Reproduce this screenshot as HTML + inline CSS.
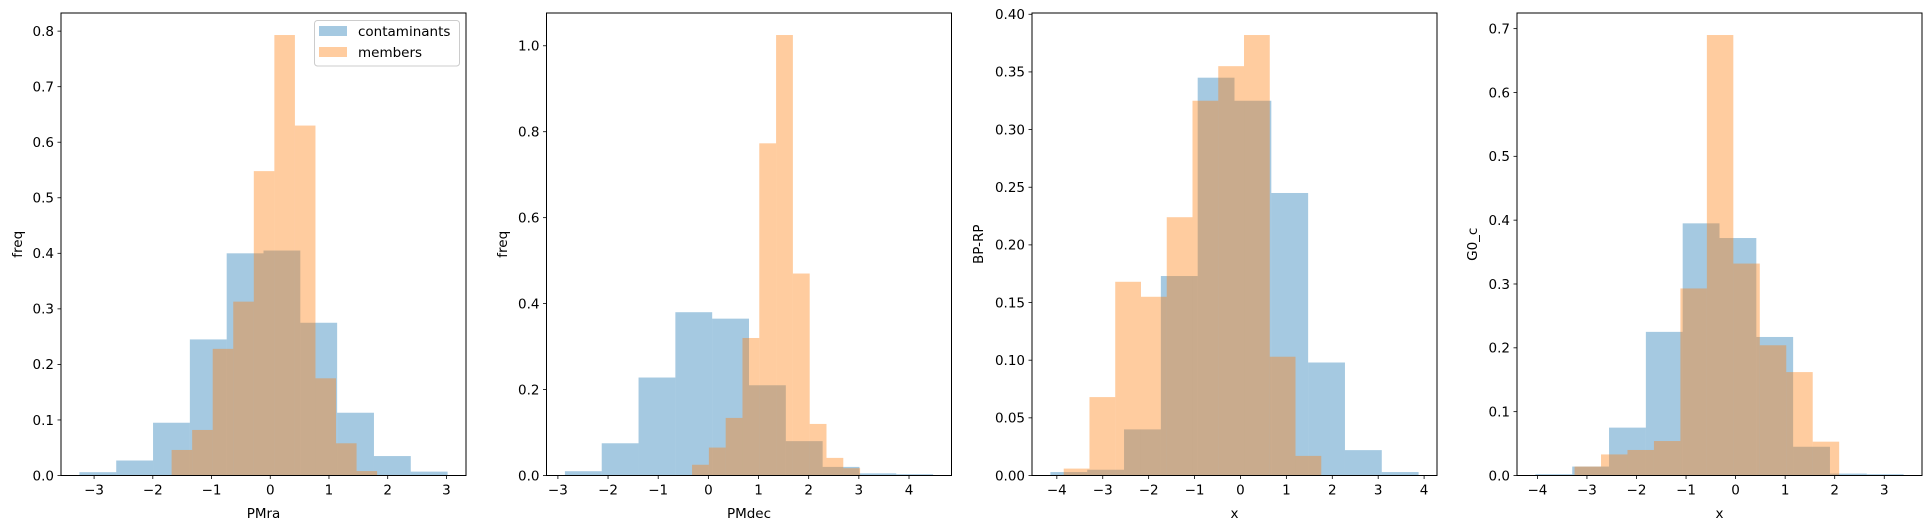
<!DOCTYPE html>
<html><head><meta charset="utf-8">
<style>
html,body{margin:0;padding:0;background:#fff;}
svg{display:block;font-family:"DejaVu Sans","Liberation Sans",sans-serif;}
</style></head>
<body>
<svg id="fig" xmlns="http://www.w3.org/2000/svg" width="1931" height="528" viewBox="0 0 1931 528"></svg>
<script>
// ---- data (top-level arrays) ----
const panelNames = ["PMra", "PMdec", "BP-RP", "G0_c"];
const xLabels = ["PMra", "PMdec", "x", "x"];
const yLabels = ["freq", "freq", "BP-RP", "G0_c"];
// contaminants: bin range [min,max] and heights (10 bins)
const contRange = [[-3.25, 3.02], [-2.86, 4.48], [-4.14, 3.88], [-4.04, 3.39]];
const contP1 = [0.006, 0.027, 0.095, 0.245, 0.400, 0.405, 0.275, 0.113, 0.035, 0.007];
const contP2 = [0.010, 0.075, 0.228, 0.380, 0.365, 0.210, 0.080, 0.020, 0.005, 0.003];
const contP3 = [0.003, 0.005, 0.040, 0.173, 0.345, 0.325, 0.245, 0.098, 0.022, 0.003];
const contP4 = [0.002, 0.014, 0.075, 0.225, 0.395, 0.372, 0.217, 0.045, 0.003, 0.002];
// members
const memRange = [[-1.68, 1.82], [-0.325, 3.025], [-3.85, 1.76], [-3.25, 2.09]];
const memP1 = [0.046, 0.082, 0.228, 0.313, 0.548, 0.793, 0.630, 0.175, 0.058, 0.008];
const memP2 = [0.025, 0.065, 0.134, 0.320, 0.773, 1.025, 0.470, 0.120, 0.041, 0.017];
const memP3 = [0.006, 0.068, 0.168, 0.155, 0.224, 0.325, 0.355, 0.382, 0.103, 0.017];
const memP4 = [0.014, 0.033, 0.040, 0.054, 0.293, 0.690, 0.332, 0.204, 0.162, 0.053];
const yTicks = [[0,0.1,0.2,0.3,0.4,0.5,0.6,0.7,0.8],[0,0.2,0.4,0.6,0.8,1.0],[0,0.05,0.1,0.15,0.2,0.25,0.3,0.35,0.4],[0,0.1,0.2,0.3,0.4,0.5,0.6,0.7]];
const yDecimals = [1,1,2,1];
const xTicks = [[-3,-2,-1,0,1,2,3],[-3,-2,-1,0,1,2,3,4],[-4,-3,-2,-1,0,1,2,3,4],[-4,-3,-2,-1,0,1,2,3]];

const contAll = [contP1, contP2, contP3, contP4];
const memAll = [memP1, memP2, memP3, memP4];
const axLeft = [61, 546.5, 1032, 1517];
const axW = 405, axTop = 13, axBot = 475.5;
const NS = "http://www.w3.org/2000/svg";
const fig = document.getElementById("fig");
function mk(tag, attrs, parent){const e=document.createElementNS(NS,tag);for(const k in attrs)e.setAttribute(k,attrs[k]);(parent||fig).appendChild(e);return e;}
function fmt(v,d){const s=Math.abs(v).toFixed(d);return (v<0?"\u2212":"")+s;}

for(let p=0;p<4;p++){
  const g = mk("g",{});
  
  
  const cont = contAll[p], mem = memAll[p];
  const lo = Math.min(contRange[p][0], memRange[p][0]), hi = Math.max(contRange[p][1], memRange[p][1]);
  const m = (hi-lo)*0.05, x0 = lo-m, x1 = hi+m;
  const ymax = Math.max(...cont, ...mem)*1.05;
  const L = axLeft[p];
  const X = v => L + (v-x0)/(x1-x0)*axW;
  const Y = v => axBot - v/ymax*(axBot-axTop);
  function drawHist(vals, range, color, name){
    const w = (range[1]-range[0])/vals.length;
    vals.forEach((h,i)=>{
      const a = X(range[0]+i*w), b = X(range[0]+(i+1)*w);
      const r = mk("rect",{x:a,y:Y(h),width:b-a,height:axBot-Y(h),fill:color,"fill-opacity":0.4},g);
      
      
    });
  }
  drawHist(cont, contRange[p], "#1f77b4", "contaminants");
  drawHist(mem, memRange[p], "#ff7f0e", "members");
  const frame = mk("rect",{x:L,y:axTop,width:axW,height:axBot-axTop,fill:"none",stroke:"#000","stroke-width":1},g);
  
  
  yTicks[p].forEach(t=>{
    const y = Y(t);
    mk("line",{x1:L-3.5,x2:L,y1:y,y2:y,stroke:"#000","stroke-width":0.8},g);
    const tx = mk("text",{x:L-7,y:y+4.8,"font-size":13.5,"text-anchor":"end",fill:"#000"},g);
    tx.textContent = fmt(t,yDecimals[p]);
    
    
  });
  xTicks[p].forEach(t=>{
    const x = X(t);
    mk("line",{x1:x,x2:x,y1:axBot,y2:axBot+3.5,stroke:"#000","stroke-width":0.8},g);
    const tx = mk("text",{x:x,y:axBot+19,"font-size":13.5,"text-anchor":"middle",fill:"#000"},g);
    tx.textContent = fmt(t,0);
    
    
  });
  const xl = mk("text",{x:L+axW/2,y:518,"font-size":13.5,"text-anchor":"middle",fill:"#000"},g);
  xl.textContent = xLabels[p];
  
  
  const ylx = [17, 502, 978, 1472][p];
  const yl = mk("text",{x:ylx,y:(axTop+axBot)/2,"font-size":13.5,"text-anchor":"middle",fill:"#000",transform:`rotate(-90 ${ylx} ${(axTop+axBot)/2}) translate(0 5)`},g);
  yl.textContent = yLabels[p];
  
  
}
// legend
const lg = mk("g",{});


mk("rect",{x:314.5,y:20.5,width:145,height:45.5,rx:3,fill:"#fff","fill-opacity":0.8,stroke:"#ccc","stroke-width":1},lg);
const legItems = [["contaminants","#1f77b4",26],["members","#ff7f0e",47]];
legItems.forEach(it=>{
  const e = mk("g",{},lg);
  
  
  mk("rect",{x:319,y:it[2],width:28,height:10,fill:it[1],"fill-opacity":0.4},e);
  const t = mk("text",{x:358,y:it[2]+10,"font-size":13.5,fill:"#000"},e);
  t.textContent = it[0];
});
</script>
</body></html>
